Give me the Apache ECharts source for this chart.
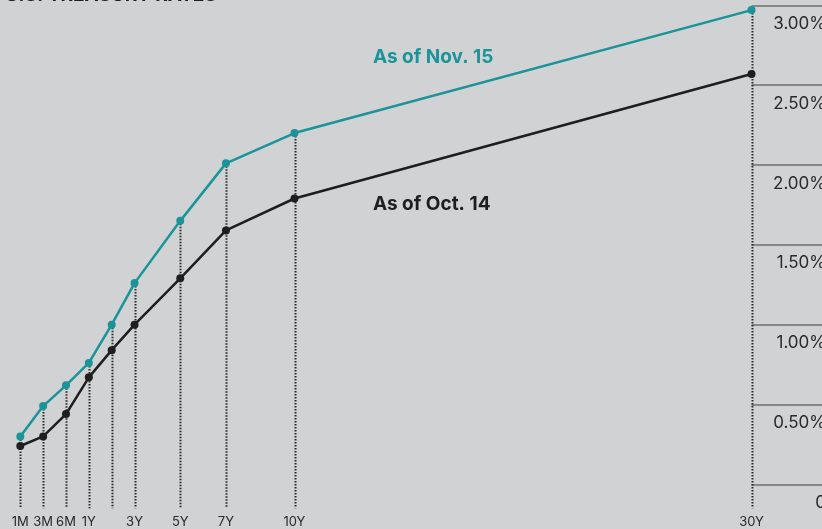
<!DOCTYPE html>
<html>
<head>
<meta charset="utf-8">
<script src="https://cdn.jsdelivr.net/npm/echarts@6/dist/echarts.min.js"></script>
<style>
  html, body { margin: 0; padding: 0; background: #d1d2d4; }
  #chart { width: 822px; height: 529px; }
</style>
</head>
<body>
<div id="chart"></div>
<script>
// Treasury yield curve: maturities and yields (%) on two dates
const maturities = ['1M', '3M', '6M', '1Y', '2Y', '3Y', '5Y', '7Y', '10Y', '30Y'];
// horizontal position of each maturity (short end spaced evenly, then years)
const maturityPos = [-2, -1, 0, 1, 2, 3, 5, 7, 10, 30];
// maturities that carry a label under the axis
const labelledMaturities = ['1M', '3M', '6M', '1Y', '3Y', '5Y', '7Y', '10Y', '30Y'];
const yieldsNov15 = [0.30, 0.49, 0.62, 0.76, 1.00, 1.26, 1.65, 2.01, 2.20, 2.97];
const yieldsOct14 = [0.24, 0.30, 0.44, 0.67, 0.84, 1.00, 1.29, 1.59, 1.79, 2.57];

const TEAL = '#1a9499';
const DARK = '#1e1e1e';
const FONT = 'Inter, Roboto, "Liberation Sans", sans-serif';

const pairs = arr => maturityPos.map((p, i) => [p, arr[i]]);
const labelAt = {};
maturityPos.forEach((p, i) => {
  if (labelledMaturities.includes(maturities[i])) labelAt[p] = maturities[i];
});

const chart = echarts.init(document.getElementById('chart'));
chart.setOption({
  backgroundColor: '#d1d2d4',
  animation: false,
  title: {
    text: 'U.S. TREASURY RATES',
    left: 0,
    top: -19,
    textStyle: { fontFamily: FONT, fontSize: 19, fontWeight: 'bold', color: '#1e1e1e' }
  },
  grid: [
    { left: 20.3, right: 70.5, top: 5.3, bottom: 44.7, outerBoundsMode: 'none' },
    { left: 751.5, right: -4, top: 5.3, bottom: 44.7, outerBoundsMode: 'none' }
  ],
  xAxis: [
    {
      gridIndex: 0,
      type: 'value',
      min: -2,
      max: 30,
      interval: 1,
      axisLine: { show: false },
      axisTick: { show: false },
      splitLine: { show: false },
      axisLabel: {
        margin: 31,
        fontFamily: FONT,
        fontSize: 13,
        color: '#2a2a2a',
        formatter: v => labelAt[v] || ''
      }
    },
    { gridIndex: 1, type: 'value', min: 0, max: 1, show: false }
  ],
  yAxis: [
    { gridIndex: 0, type: 'value', min: 0, max: 3, show: false },
    {
      gridIndex: 1,
      type: 'value',
      position: 'right',
      min: 0,
      max: 3,
      interval: 0.5,
      axisLine: { show: false },
      axisTick: { show: false },
      splitLine: { show: true, lineStyle: { color: '#6e6e6e', width: 1.6 } },
      axisLabel: {
        inside: true,
        margin: 0,
        verticalAlign: 'top',
        padding: [10, 0, 0, 0],
        fontFamily: FONT,
        fontSize: 17,
        color: '#2a2a2a',
        formatter: v => (v === 0 ? '0' : v.toFixed(2) + '%')
      }
    }
  ],
  series: [
    {
      // dotted drop lines from each maturity's upper point to the label row
      type: 'custom',
      xAxisIndex: 0,
      yAxisIndex: 0,
      silent: true,
      z: 1,
      data: maturityPos.map((p, i) => [p, Math.max(yieldsNov15[i], yieldsOct14[i])]),
      renderItem: (params, api) => {
        const top = api.coord([api.value(0), api.value(1)]);
        const base = api.coord([api.value(0), 0]);
        const x = Math.round(top[0]) + 0.5;
        return {
          type: 'line',
          shape: { x1: x, y1: top[1], x2: x, y2: base[1] + 24 },
          style: { stroke: '#2a2a2a', lineWidth: 2, lineDash: [1.5, 1.5] }
        };
      }
    },
    {
      name: 'As of Oct. 14',
      type: 'line',
      data: pairs(yieldsOct14),
      z: 3,
      symbol: 'circle',
      symbolSize: 8,
      lineStyle: { color: DARK, width: 2.5 },
      itemStyle: { color: DARK }
    },
    {
      name: 'As of Nov. 15',
      type: 'line',
      data: pairs(yieldsNov15),
      z: 4,
      symbol: 'circle',
      symbolSize: 8,
      lineStyle: { color: TEAL, width: 2.5 },
      itemStyle: { color: TEAL }
    }
  ],
  graphic: [
    {
      type: 'text', left: 373, top: 48, silent: true,
      style: { text: 'As of Nov. 15', fill: TEAL, font: 'bold 19px ' + FONT }
    },
    {
      type: 'text', left: 373, top: 195, silent: true,
      style: { text: 'As of Oct. 14', fill: DARK, font: 'bold 19px ' + FONT }
    }
  ]
});
</script>
</body>
</html>
